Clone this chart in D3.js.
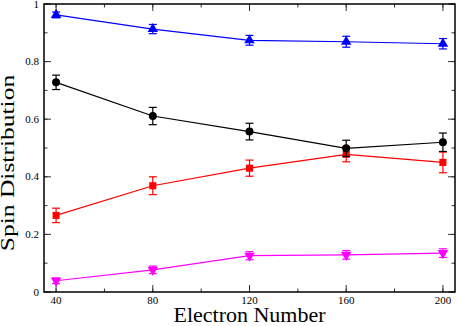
<!DOCTYPE html>
<html>
<head>
<meta charset="utf-8">
<script src="https://cdn.jsdelivr.net/npm/d3@7"></script>
<style>
body { margin: 0; background: #fff; }
text { font-family: "Liberation Serif", "DejaVu Serif", serif; }
</style>
</head>
<body>
<svg id="mainSVG" width="457" height="326"></svg>
<script>
// x values shared by every series
var electrons = [40, 80, 120, 160, 200];

// spin distribution series, value and error bar half-height
var blueVals = [0.962, 0.913, 0.874, 0.869, 0.862];
var blueErr = [0.010, 0.016, 0.017, 0.019, 0.018];
var blackVals = [0.728, 0.611, 0.557, 0.499, 0.520];
var blackErr = [0.025, 0.030, 0.029, 0.028, 0.032];
var redVals = [0.266, 0.369, 0.430, 0.478, 0.450];
var redErr = [0.025, 0.031, 0.028, 0.026, 0.036];
var magentaVals = [0.039, 0.077, 0.126, 0.129, 0.135];
var magentaErr = [0.010, 0.013, 0.014, 0.015, 0.015];

var xTicks = [40, 80, 120, 160, 200];
var yTicks = [0, 0.2, 0.4, 0.6, 0.8, 1];
var yTickLabels = ["0", "0.2", "0.4", "0.6", "0.8", "1"];

// plot box
var margin = { top: 4, right: 2, bottom: 34, left: 44 };
var width = 457 - margin.left - margin.right;
var height = 326 - margin.top - margin.bottom;

var svg = d3.select("#mainSVG");
var g = svg.append("g")
    .attr("transform", "translate(" + margin.left + "," + margin.top + ")");

var x = d3.scaleLinear().domain([35, 205]).range([0, width]);
var y = d3.scaleLinear().domain([0, 1]).range([height, 0]);

// minor + major ticks, pointing inward on all four sides
var xMinor = d3.range(40, 201, 20);
var yMinor = d3.range(0, 1.0001, 0.1);

function tickLines(vals, isMajor, side) {
    var len = isMajor ? 7 : 3.5;
    g.append("g").selectAll("line")
        .data(vals)
        .enter()
        .append("line")
        .attr("x1", function(d) {
            if (side == "bottom" || side == "top") return x(d);
            return side == "left" ? 0 : width;
        })
        .attr("x2", function(d) {
            if (side == "bottom" || side == "top") return x(d);
            return side == "left" ? len : width - len;
        })
        .attr("y1", function(d) {
            if (side == "left" || side == "right") return y(d);
            return side == "bottom" ? height : 0;
        })
        .attr("y2", function(d) {
            if (side == "left" || side == "right") return y(d);
            return side == "bottom" ? height - len : len;
        })
        .attr("stroke", "#333")
        .attr("stroke-width", 1);
}

["bottom", "top"].forEach(function(s) {
    tickLines(xMinor, false, s);
    tickLines(xTicks, true, s);
});
["left", "right"].forEach(function(s) {
    tickLines(yMinor, false, s);
    tickLines(yTicks, true, s);
});

// tick labels
g.append("g").selectAll("text")
    .data(xTicks)
    .enter()
    .append("text")
    .attr("x", function(d) { return x(d); })
    .attr("y", height + 12)
    .attr("text-anchor", "middle")
    .attr("font-size", 11)
    .text(function(d) { return d; });

g.append("g").selectAll("text")
    .data(yTicks)
    .enter()
    .append("text")
    .attr("x", -5)
    .attr("y", function(d) { return y(d) + 3.5; })
    .attr("text-anchor", "end")
    .attr("font-size", 11)
    .text(function(d, i) { return yTickLabels[i]; });

// axis titles
svg.append("text")
    .attr("x", margin.left + width / 2)
    .attr("y", 322)
    .attr("text-anchor", "middle")
    .attr("font-size", 22)
    .text("Electron Number");

// y title looks taller than wide in the picture, so squash it across
svg.append("text")
    .attr("transform", "translate(13.5,163) rotate(-90) scale(1,0.72)")
    .attr("text-anchor", "middle")
    .attr("font-size", 25.5)
    .text("Spin Distribution");

// draw one series: line, error bars, markers
function drawSeries(vals, errs, color, shape) {
    var pts = d3.range(vals.length);
    var s = g.append("g");

    s.append("path")
        .datum(pts)
        .attr("fill", "none")
        .attr("stroke", color)
        .attr("stroke-width", 1.2)
        .attr("d", d3.line()
            .x(function(i) { return x(electrons[i]); })
            .y(function(i) { return y(vals[i]); }));

    var eb = s.append("g").attr("stroke", color).attr("stroke-width", 1.2);
    eb.selectAll(".v").data(pts).enter().append("line")
        .attr("x1", function(i) { return x(electrons[i]); })
        .attr("x2", function(i) { return x(electrons[i]); })
        .attr("y1", function(i) { return y(vals[i] - errs[i]); })
        .attr("y2", function(i) { return y(vals[i] + errs[i]); });
    [-1, 1].forEach(function(sign) {
        eb.selectAll(".c" + sign).data(pts).enter().append("line")
            .attr("x1", function(i) { return x(electrons[i]) - 4; })
            .attr("x2", function(i) { return x(electrons[i]) + 4; })
            .attr("y1", function(i) { return y(vals[i] + sign * errs[i]); })
            .attr("y2", function(i) { return y(vals[i] + sign * errs[i]); });
    });

    s.selectAll(".m").data(pts).enter().append("path")
        .attr("transform", function(i) {
            var r = shape == "down" ? 180 : 0;
            return "translate(" + x(electrons[i]) + "," + y(vals[i]) + ") rotate(" + r + ")";
        })
        .attr("d", function() {
            if (shape == "circle") return d3.symbol().type(d3.symbolCircle).size(50)();
            if (shape == "square") return d3.symbol().type(d3.symbolSquare).size(50)();
            return d3.symbol().type(d3.symbolTriangle).size(48)();
        })
        .attr("fill", color);
}

drawSeries(magentaVals, magentaErr, "#ff00ff", "down");
drawSeries(redVals, redErr, "#ff0000", "square");
drawSeries(blackVals, blackErr, "#000000", "circle");
drawSeries(blueVals, blueErr, "#0000ff", "up");

// frame
g.append("rect")
    .attr("width", width)
    .attr("height", height)
    .attr("fill", "none")
    .attr("stroke", "#000")
    .attr("stroke-width", 1.5);
</script>
</body>
</html>
